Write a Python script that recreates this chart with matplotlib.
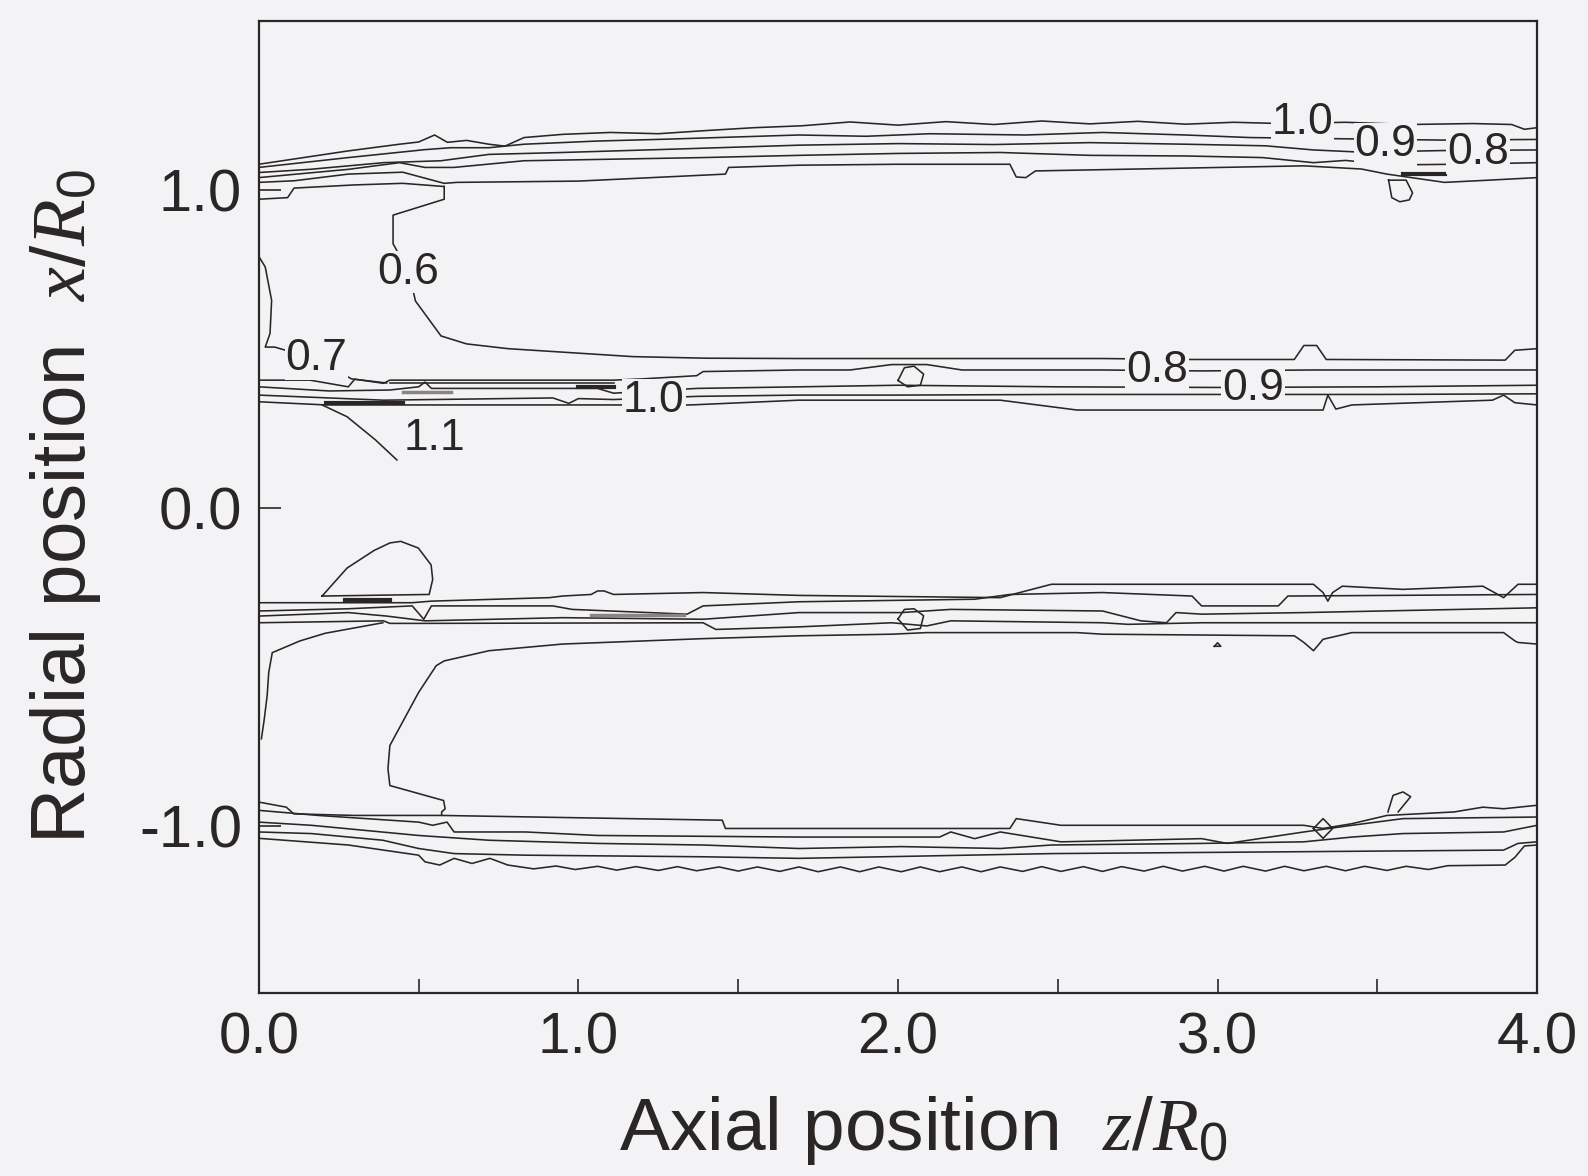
import numpy as np
import matplotlib
matplotlib.use("Agg")
import matplotlib.pyplot as plt

plt.rcParams["font.family"] = ["Liberation Sans", "DejaVu Sans"]
plt.rcParams["mathtext.fontset"] = "custom"
plt.rcParams["mathtext.it"] = "Liberation Serif:italic"
plt.rcParams["mathtext.rm"] = "Liberation Sans"

# contour lines: (axial z/R0, radial x/R0)
# upper outer band
u1 = np.array([(0.00, 1.080), (0.28, 1.122), (0.44, 1.143), (0.50, 1.150), (0.55, 1.172), (0.59, 1.149),
               (0.65, 1.155), (0.72, 1.143), (0.77, 1.137), (0.83, 1.164), (0.95, 1.174), (1.10, 1.180),
               (1.25, 1.176), (1.40, 1.186), (1.55, 1.195), (1.70, 1.201), (1.85, 1.213), (2.00, 1.203),
               (2.15, 1.214), (2.30, 1.205), (2.45, 1.216), (2.60, 1.207), (2.75, 1.215), (2.90, 1.206),
               (3.05, 1.212), (3.20, 1.208), (3.40, 1.212), (3.60, 1.205), (3.80, 1.208), (3.92, 1.205),
               (3.96, 1.190), (4.00, 1.195)])
u2 = np.array([(0.00, 1.070), (0.28, 1.101), (0.52, 1.126), (0.60, 1.132), (0.72, 1.132), (0.83, 1.143),
               (1.06, 1.153), (1.28, 1.159), (1.50, 1.166), (1.69, 1.172), (1.90, 1.168), (2.10, 1.176),
               (2.40, 1.172), (2.64, 1.180), (2.90, 1.172), (3.10, 1.164), (3.40, 1.160), (3.70, 1.156),
               (4.00, 1.158)])
u3 = np.array([(0.00, 1.054), (0.16, 1.064), (0.39, 1.085), (0.57, 1.091), (0.72, 1.111), (0.95, 1.117),
               (1.28, 1.127), (1.69, 1.140), (2.00, 1.145), (2.30, 1.142), (2.60, 1.148), (2.90, 1.143),
               (3.15, 1.138), (3.30, 1.125), (3.45, 1.118), (3.70, 1.123), (4.00, 1.125)])
u4 = np.array([(0.00, 1.038), (0.28, 1.064), (0.44, 1.085), (0.52, 1.070), (0.61, 1.070), (0.83, 1.091),
               (1.39, 1.101), (1.69, 1.108), (2.00, 1.114), (2.32, 1.117), (2.60, 1.108), (2.90, 1.106),
               (3.14, 1.101), (3.30, 1.085), (3.40, 1.092), (3.55, 1.078), (3.75, 1.080), (4.00, 1.085)])
u5 = np.array([(0.00, 1.023), (0.11, 1.028), (0.28, 1.049), (0.45, 1.055), (0.58, 1.020), (0.62, 1.023),
               (1.00, 1.027), (1.46, 1.049), (1.47, 1.070), (1.69, 1.077), (2.00, 1.080), (2.35, 1.080),
               (2.37, 1.040), (2.40, 1.038), (2.43, 1.059), (2.80, 1.066), (3.27, 1.075), (3.45, 1.065),
               (3.53, 1.049), (3.71, 1.023), (3.85, 1.030), (4.00, 1.038)])
u0 = np.array([(0.00, 0.970), (0.09, 0.975), (0.11, 1.005), (0.30, 1.015), (0.45, 1.020), (0.58, 1.010)])
# upper 0.6 and 0.7 contours
c6_up = np.array([(0.58, 1.010), (0.58, 0.970), (0.42, 0.920), (0.42, 0.830), (0.47, 0.740), (0.49, 0.650),
                  (0.57, 0.540), (0.65, 0.515), (0.78, 0.500), (1.17, 0.475), (1.40, 0.470), (1.69, 0.469),
                  (2.00, 0.469), (2.64, 0.469), (2.90, 0.466), (3.24, 0.466), (3.27, 0.510), (3.31, 0.510),
                  (3.34, 0.466), (3.90, 0.464), (3.93, 0.495), (4.00, 0.500)])
c7_up = np.array([(0.00, 0.790), (0.02, 0.757), (0.04, 0.652), (0.035, 0.548), (0.02, 0.505), (0.05, 0.505),
                  (0.10, 0.490), (0.19, 0.460), (0.29, 0.405), (0.40, 0.392)])
c11_up = np.array([(0.198, 0.323), (0.276, 0.286), (0.365, 0.213), (0.432, 0.150)])
# upper inner band
i2 = np.array([(0.00, 0.401), (0.16, 0.401), (0.28, 0.380), (0.30, 0.404), (0.39, 0.391), (0.41, 0.401),
               (1.11, 0.401), (1.20, 0.405), (1.37, 0.415), (1.39, 0.428), (1.69, 0.433), (1.85, 0.433),
               (1.98, 0.450), (2.09, 0.450), (2.20, 0.433), (2.64, 0.433), (2.95, 0.430), (3.30, 0.433),
               (3.60, 0.433), (4.00, 0.433)])
i2b = np.array([(0.41, 0.391), (1.11, 0.391)])
i3 = np.array([(0.00, 0.380), (0.22, 0.367), (0.41, 0.370), (0.50, 0.380), (0.52, 0.395), (0.54, 0.375),
               (1.06, 0.375), (1.11, 0.360), (1.37, 0.375), (1.69, 0.380), (2.00, 0.385), (2.50, 0.380),
               (3.00, 0.378), (3.50, 0.380), (4.00, 0.385)])
i4 = np.array([(0.00, 0.354), (0.39, 0.338), (0.92, 0.345), (0.97, 0.328), (1.00, 0.343), (1.11, 0.340),
               (1.37, 0.350), (1.69, 0.354), (2.00, 0.354), (2.50, 0.356), (3.00, 0.356), (3.50, 0.356),
               (4.00, 0.358)])
i5 = np.array([(0.00, 0.333), (0.21, 0.323), (0.53, 0.323), (1.11, 0.323), (1.35, 0.323), (1.69, 0.338),
               (2.32, 0.338), (2.56, 0.307), (3.24, 0.307), (3.33, 0.307), (3.345, 0.354), (3.37, 0.310),
               (3.42, 0.323), (3.86, 0.338), (3.895, 0.354), (3.93, 0.330), (4.00, 0.323)])
# lower inner band
li1 = np.array([(0.00, -0.299), (0.48, -0.299), (0.54, -0.294), (0.91, -0.283), (0.95, -0.278), (1.04, -0.273),
                (1.06, -0.262), (1.08, -0.262), (1.11, -0.273), (1.39, -0.267), (1.69, -0.276), (2.32, -0.283),
                (2.48, -0.241), (3.30, -0.241), (3.33, -0.267), (3.345, -0.294), (3.36, -0.267), (3.39, -0.247),
                (3.58, -0.257), (3.83, -0.247), (3.895, -0.283), (3.94, -0.241), (4.00, -0.241)])
li2 = np.array([(0.00, -0.325), (0.28, -0.318), (0.48, -0.309), (0.516, -0.351), (0.54, -0.309), (0.92, -0.309),
                (0.98, -0.320), (1.34, -0.335), (1.39, -0.309), (1.69, -0.296), (2.24, -0.288), (2.35, -0.273),
                (2.64, -0.267), (2.92, -0.278), (2.95, -0.309), (3.19, -0.309), (3.22, -0.278), (4.00, -0.273)])
li3 = np.array([(0.00, -0.341), (0.28, -0.330), (0.40, -0.341), (0.52, -0.356), (0.95, -0.346), (1.39, -0.351),
                (1.69, -0.330), (2.01, -0.330), (2.165, -0.320), (2.64, -0.325), (2.76, -0.356), (2.84, -0.362),
                (2.87, -0.330), (2.95, -0.335), (3.27, -0.330), (4.00, -0.315)])
li4 = np.array([(0.00, -0.362), (0.39, -0.356), (0.41, -0.364), (0.52, -0.364), (1.39, -0.362), (1.43, -0.383),
                (1.69, -0.375), (1.98, -0.362), (2.09, -0.372), (2.165, -0.356), (2.64, -0.362), (2.72, -0.367),
                (2.95, -0.362), (4.00, -0.362)])
# lower 0.6 contour, 0.7 contour and closed loop near the inlet
c6_low = np.array([(4.00, -0.429), (3.94, -0.424), (3.93, -0.419), (3.895, -0.393), (3.42, -0.393),
                   (3.33, -0.414), (3.30, -0.450), (3.27, -0.424), (3.24, -0.403), (2.64, -0.398),
                   (2.56, -0.393), (2.09, -0.393), (1.98, -0.398), (1.69, -0.403), (1.39, -0.412),
                   (0.95, -0.429), (0.72, -0.450), (0.58, -0.482), (0.555, -0.497), (0.50, -0.581),
                   (0.41, -0.748), (0.404, -0.821), (0.41, -0.874), (0.578, -0.921), (0.583, -0.947),
                   (0.572, -0.957), (0.572, -0.968), (1.45, -0.983), (1.46, -1.009), (1.69, -1.009),
                   (2.35, -1.009), (2.37, -0.978), (2.51, -0.999), (3.27, -0.999), (3.33, -1.009),
                   (3.42, -0.994), (3.53, -0.968), (3.74, -0.957), (3.83, -0.942), (3.895, -0.947),
                   (4.00, -0.936)])
c7_low = np.array([(0.008, -0.727), (0.017, -0.665), (0.026, -0.591), (0.031, -0.518), (0.042, -0.456),
                   (0.129, -0.419), (0.208, -0.395), (0.388, -0.362)])
loop_low = np.array([(0.198, -0.278), (0.276, -0.190), (0.36, -0.135), (0.41, -0.111), (0.444, -0.106),
                     (0.499, -0.127), (0.539, -0.180), (0.544, -0.226), (0.533, -0.273), (0.198, -0.278)])
# lower outer band
lo0 = np.array([(0.00, -0.926), (0.086, -0.942), (0.109, -0.963), (0.30, -0.968), (0.57, -0.968)])
lo1 = np.array([(0.00, -0.952), (0.186, -0.968), (0.50, -0.989), (0.544, -0.999), (0.589, -0.989),
                (0.611, -1.020), (0.835, -1.020), (1.06, -1.031), (1.69, -1.036), (2.13, -1.036),
                (2.165, -1.020), (2.24, -1.041), (2.32, -1.020), (2.51, -1.051), (2.95, -1.041),
                (3.03, -1.056), (3.27, -1.020), (3.42, -0.999), (3.58, -0.978), (4.00, -0.973)])
lo2 = np.array([(0.00, -0.989), (0.164, -0.999), (0.50, -1.031), (0.72, -1.046), (1.06, -1.056),
                (1.39, -1.061), (1.69, -1.072), (2.01, -1.066), (2.32, -1.072), (2.48, -1.061),
                (2.95, -1.056), (3.27, -1.051), (3.42, -1.036), (3.58, -1.025), (3.895, -1.020),
                (4.00, -0.999)])
lo3 = np.array([(0.00, -1.020), (0.164, -1.025), (0.388, -1.046), (0.50, -1.072), (0.611, -1.088),
                (0.835, -1.093), (1.39, -1.098), (1.69, -1.103), (2.48, -1.088), (3.27, -1.082),
                (3.895, -1.077), (3.94, -1.056), (4.00, -1.051)])
lo4 = np.array([(0.00, -1.040), (0.28, -1.061), (0.50, -1.093), (0.52, -1.114), (0.566, -1.124),
                (0.611, -1.103), (0.667, -1.119), (0.723, -1.103), (0.779, -1.124), (0.86, -1.136),
                (0.93, -1.127), (0.99, -1.138), (1.06, -1.128), (1.12, -1.140), (1.18, -1.129),
                (1.25, -1.141), (1.31, -1.129), (1.37, -1.142), (1.44, -1.130), (1.50, -1.143),
                (1.56, -1.130), (1.63, -1.144), (1.69, -1.130), (1.75, -1.145), (1.82, -1.130),
                (1.88, -1.145), (1.94, -1.130), (2.01, -1.145), (2.07, -1.130), (2.13, -1.145),
                (2.20, -1.130), (2.26, -1.145), (2.32, -1.130), (2.39, -1.144), (2.45, -1.129),
                (2.51, -1.144), (2.58, -1.129), (2.64, -1.144), (2.70, -1.129), (2.77, -1.143),
                (2.83, -1.128), (2.89, -1.143), (2.96, -1.128), (3.02, -1.143), (3.08, -1.128),
                (3.15, -1.143), (3.21, -1.128), (3.27, -1.142), (3.34, -1.128), (3.40, -1.142),
                (3.46, -1.128), (3.53, -1.141), (3.59, -1.128), (3.66, -1.138), (3.72, -1.126),
                (3.90, -1.124), (3.93, -1.100), (3.96, -1.064), (4.00, -1.061)])
# small closed islands
isl_up_mid = np.array([(2.00, 0.400), (2.02, 0.440), (2.05, 0.445), (2.08, 0.420), (2.07, 0.385),
                       (2.03, 0.380), (2.00, 0.400)])
isl_low_mid = np.array([(2.00, -0.350), (2.02, -0.320), (2.05, -0.318), (2.08, -0.340), (2.07, -0.380),
                        (2.03, -0.385), (2.00, -0.350)])
isl_up_end = np.array([(3.535, 1.030), (3.545, 0.975), (3.57, 0.962), (3.60, 0.968), (3.61, 0.990),
                       (3.59, 1.030), (3.535, 1.030)])
isl_low_end = np.array([(3.533, -0.957), (3.549, -0.905), (3.58, -0.894), (3.604, -0.909), (3.565, -0.957)])
isl_low_tri = np.array([(2.99, -0.436), (3.00, -0.425), (3.01, -0.436), (2.99, -0.436)])
isl_low_dia = np.array([(3.30, -1.009), (3.33, -0.978), (3.36, -1.009), (3.33, -1.040), (3.30, -1.009)])
# places where lines pile up into dark strokes
dense_segs = [np.array([(0.21, 0.330), (0.45, 0.330)]), np.array([(1.00, 0.380), (1.11, 0.380)]),
              np.array([(3.58, 1.050), (3.71, 1.050)]), np.array([(0.27, -0.290), (0.41, -0.290)])]
gray_segs = [np.array([(1.04, -0.337), (1.33, -0.337)]), np.array([(0.45, 0.365), (0.60, 0.365)])]

# contour labels: text, z, x
label_text = ["1.0", "0.9", "0.8", "0.6", "0.7", "1.0", "1.1", "0.8", "0.9"]
label_z = [3.265, 3.525, 3.815, 0.466, 0.18, 1.236, 0.55, 2.81, 3.11]
label_x = [1.211, 1.143, 1.117, 0.741, 0.47, 0.338, 0.218, 0.43, 0.376]

bg = "#f3f2f4"
ink = "#2b2626"

fig = plt.figure(figsize=(15.88, 11.76), dpi=100, facecolor=bg)
ax = fig.add_axes([0.163, 0.156, 0.805, 0.826], facecolor=bg)

lines = [u0, u1, u2, u3, u4, u5, c6_up, c7_up, c11_up, i2, i2b, i3, i4, i5,
         li1, li2, li3, li4, c6_low, c7_low, loop_low, lo0, lo1, lo2, lo3, lo4,
         isl_up_mid, isl_low_mid, isl_up_end, isl_low_end, isl_low_tri, isl_low_dia]
for pts in lines:
    ax.plot(pts[:, 0], pts[:, 1], color=ink, lw=1.15)
for pts in dense_segs:
    ax.plot(pts[:, 0], pts[:, 1], color=ink, lw=3.0)
for pts in gray_segs:
    ax.plot(pts[:, 0], pts[:, 1], color="#8a8585", lw=2.5)

for t, zz, xx in zip(label_text, label_z, label_x):
    ax.text(zz, xx, t, fontsize=32, color=ink, ha="center", va="center",
            bbox=dict(facecolor=bg, edgecolor="none", pad=0.5))

ax.set_xlim(0, 4)
ax.set_ylim(-1.525, 1.53)
ax.set_xticks([0, 1, 2, 3, 4])
ax.set_xticklabels(["0.0", "1.0", "2.0", "3.0", "4.0"])
ax.set_xticks([0.5, 1.5, 2.5, 3.5], minor=True)
ax.set_yticks([-1, 0, 1])
ax.set_yticklabels(["-1.0", "0.0", "1.0"])
ax.tick_params(axis="x", which="both", direction="in", length=10, width=1.2,
               labelsize=42, pad=14, colors=ink)
ax.tick_params(axis="y", direction="in", length=16, width=1.2, labelsize=43, pad=12, colors=ink)
for s in ax.spines.values():
    s.set_linewidth(1.6)
    s.set_color(ink)

ax.set_xlabel(r"Axial position  $z/R_{0}$", fontsize=54, color=ink, labelpad=20)
ax.set_ylabel(r"Radial position  $x/R_{0}$", fontsize=55, color=ink, labelpad=26)
ax.xaxis.label.set_x(0.52)
ax.yaxis.label.set_y(0.5)

fig.savefig("out.png", dpi=100, facecolor=bg)
